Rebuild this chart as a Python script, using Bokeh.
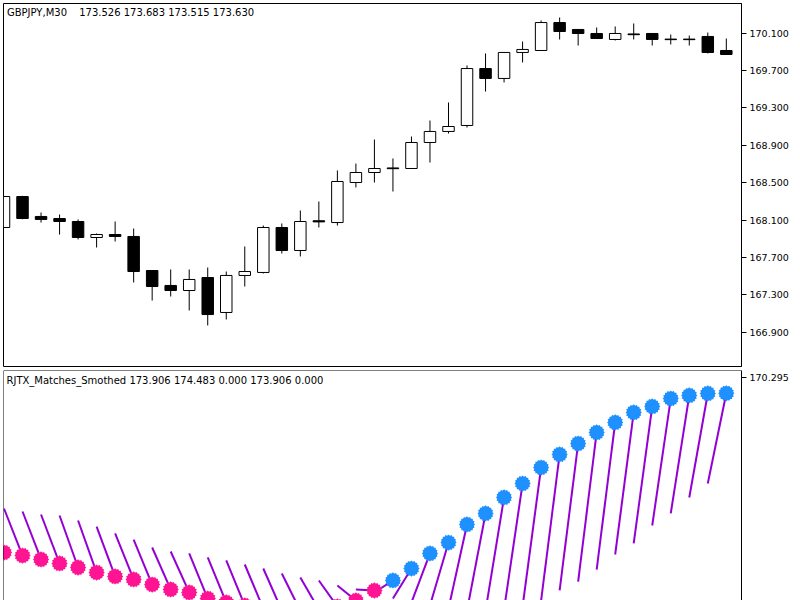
import numpy as np
from bokeh.plotting import figure
from bokeh.models import Range1d, FixedTicker, Label, Span, ColumnDataSource
from bokeh.layouts import column
from bokeh.embed import file_html
from bokeh.resources import INLINE

# ---------------- data ----------------
symbol_title = "GBPJPY,M30"
symbol_values = "173.526 173.683 173.515 173.630"
ind_title = "RJTX_Matches_Smothed 173.906 174.483 0.000 173.906 0.000"

opens = [168.022, 168.353, 168.140, 168.118, 168.086, 167.915, 167.947, 167.926, 167.562, 167.402,
         167.348, 167.487, 167.113, 167.509, 167.541, 168.022, 167.776, 168.094, 168.075, 168.503,
         168.610, 168.659, 168.653, 168.931, 169.049, 169.113, 169.722, 169.616, 169.894, 169.915,
         170.214, 170.140, 170.097, 170.033, 170.092, 170.097, 170.037, 170.037, 170.065, 169.915]
highs = [168.360, 168.360, 168.182, 168.161, 168.108, 167.958, 168.086, 168.011, 167.562, 167.573,
         167.573, 167.594, 167.551, 167.819, 168.043, 168.065, 168.204, 168.300, 168.632, 168.706,
         168.963, 168.760, 168.995, 169.166, 169.359, 169.755, 169.883, 169.894, 170.011, 170.236,
         170.268, 170.145, 170.161, 170.172, 170.204, 170.100, 170.086, 170.075, 170.107, 170.043]
lows = [168.020, 168.110, 168.075, 167.947, 167.894, 167.808, 167.872, 167.434, 167.241, 167.284,
        167.134, 166.974, 167.038, 167.391, 167.530, 167.744, 167.712, 168.022, 168.043, 168.450,
        168.503, 168.407, 168.650, 168.717, 169.027, 169.091, 169.476, 169.573, 169.787, 169.912,
        170.033, 169.968, 170.040, 170.022, 170.033, 169.968, 169.979, 169.968, 169.883, 169.870]
closes = [168.353, 168.118, 168.108, 168.086, 167.915, 167.947, 167.926, 167.551, 167.391, 167.348,
          167.466, 167.091, 167.509, 167.551, 168.022, 167.776, 168.086, 168.082, 168.514, 168.610,
          168.653, 168.651, 168.931, 169.049, 169.102, 169.722, 169.616, 169.894, 169.926, 170.214,
          170.118, 170.097, 170.043, 170.097, 170.084, 170.033, 170.031, 170.031, 169.894, 169.872]

price_ticks = [166.9, 167.3, 167.7, 168.1, 168.5, 168.9, 169.3, 169.7, 170.1]
price_tick_labels = ["166.900", "167.300", "167.700", "168.100", "168.500",
                     "168.900", "169.300", "169.700", "170.100"]

# indicator: smoothed value (star markers) and lagged value (start of each purple segment)
ind_marker = [168.423, 168.391, 168.349, 168.306, 168.263, 168.209, 168.167, 168.135, 168.081, 168.028,
              167.996, 167.931, 167.889, 167.857, 167.824, 167.803, 167.801, 167.814, 167.846, 167.910,
              168.017, 168.124, 168.252, 168.413, 168.530, 168.723, 168.841, 169.012, 169.161, 169.332,
              169.472, 169.589, 169.707, 169.814, 169.921, 169.985, 170.070, 170.103, 170.124, 170.126]
ind_lag = [168.894, 168.862, 168.830, 168.819, 168.766, 168.701, 168.627, 168.562, 168.477, 168.434,
           168.413, 168.370, 168.338, 168.295, 168.252, 168.199, 168.156, 168.124, 168.070, 168.028,
           167.996, 167.931, 167.889, 167.857, 167.824, 167.803, 167.801, 167.814, 167.846, 167.910,
           168.017, 168.113, 168.241, 168.402, 168.520, 168.712, 168.841, 169.012, 169.161]
ind_state = [-1, -1, -1, -1, -1, -1, -1, -1, -1, -1, -1, -1, -1, -1, -1, -1, -1, -1, -1, -1, -1,
             1, 1, 1, 1, 1, 1, 1, 1, 1, 1, 1, 1, 1, 1, 1, 1, 1, 1, 1]
ind_ticks = [170.295]
ind_tick_labels = ["170.295"]

FONT = "DejaVu Sans"
FS = "9.5px"
FS_HEAD = "10px"

n = len(opens)
idx = list(range(n))

# ---------------- price panel ----------------
p1 = figure(width=800, height=368, x_range=Range1d(-0.027, 39.82),
            y_range=Range1d(166.5353, 170.4176), output_backend="svg",
            toolbar_location=None, x_axis_location=None, y_axis_location="right",
            min_border_left=3, min_border_right=59, min_border_top=3, min_border_bottom=2,
            background_fill_color="white", border_fill_color="white")
p1.grid.visible = False
p1.outline_line_color = "black"
p1.outline_line_alpha = 1.0
ax1 = p1.yaxis[0]
ax1.ticker = FixedTicker(ticks=price_ticks)
ax1.major_label_overrides = {t: s for t, s in zip(price_ticks, price_tick_labels)}
ax1.major_tick_out = 5
ax1.major_tick_in = 0
ax1.minor_tick_out = 0
ax1.minor_tick_in = 0
ax1.major_label_standoff = 3
ax1.axis_line_color = "black"
ax1.major_tick_line_color = "black"
ax1.major_label_text_font = FONT
ax1.major_label_text_font_size = FS
ax1.major_label_text_color = "black"

body_top = [max(o, c) for o, c in zip(opens, closes)]
body_bot = [min(o, c) for o, c in zip(opens, closes)]
body_fill = ["white" if c > o else "black" for o, c in zip(opens, closes)]
src = ColumnDataSource(dict(x=idx, o=opens, h=highs, l=lows, c=closes,
                            top=body_top, bot=body_bot, fill=body_fill))
p1.segment(x0="x", y0="l", x1="x", y1="h", source=src, line_color="black", line_width=1)
p1.vbar(x="x", top="top", bottom="bot", width=0.62, source=src,
        fill_color="fill", line_color="black", line_width=1)

p1.add_layout(Label(x=0.16, y=170.316, text=symbol_title, text_font=FONT, text_font_size=FS_HEAD,
                    text_baseline="middle", text_align="left", text_color="black"))
p1.add_layout(Label(x=4.06, y=170.316, text=symbol_values, text_font=FONT, text_font_size=FS_HEAD,
                    text_baseline="middle", text_align="left", text_color="black"))

# ---------------- indicator panel ----------------
p2 = figure(width=800, height=232, x_range=p1.x_range,
            y_range=Range1d(167.910, 170.3699), output_backend="svg",
            toolbar_location=None, x_axis_location=None, y_axis_location="right",
            min_border_left=3, min_border_right=59, min_border_top=2, min_border_bottom=0,
            background_fill_color="white", border_fill_color="white")
p2.grid.visible = False
p2.outline_line_color = None
ax2 = p2.yaxis[0]
ax2.ticker = FixedTicker(ticks=ind_ticks)
ax2.major_label_overrides = {t: s for t, s in zip(ind_ticks, ind_tick_labels)}
ax2.major_tick_out = 5
ax2.major_tick_in = 0
ax2.minor_tick_out = 0
ax2.minor_tick_in = 0
ax2.major_label_standoff = 3
ax2.axis_line_color = "black"
ax2.major_tick_line_color = "black"
ax2.major_label_text_font = FONT
ax2.major_label_text_font_size = FS
ax2.major_label_text_color = "black"

p2.add_layout(Span(location=p2.x_range.start, dimension="height", line_color="black", line_width=1))
p2.add_layout(Span(location=p2.y_range.end, dimension="width", line_color="black", line_width=1))

seg = ColumnDataSource(dict(x0=idx[:-1], y0=ind_lag, x1=idx[1:], y1=ind_marker[1:]))
p2.segment(x0="x0", y0="y0", x1="x1", y1="y1", source=seg, line_color="#9400D3", line_width=2)

mcol = ["#FF1493" if s < 0 else "#1E90FF" for s in ind_state]
msrc = ColumnDataSource(dict(x=idx, y=ind_marker, col=mcol))
p2.scatter(x="x", y="y", source=msrc, marker="circle", size=13, fill_color="col", line_color=None)
for ang in (0.0, np.pi / 8, np.pi / 4, 3 * np.pi / 8):
    p2.scatter(x="x", y="y", source=msrc, marker="square", size=11.5, angle=ang,
               fill_color="col", line_color=None)

p2.add_layout(Label(x=0.135, y=170.268, text=ind_title, text_font=FONT, text_font_size=FS_HEAD,
                    text_baseline="middle", text_align="left", text_color="black"))

layout = column(p1, p2, spacing=0)
open("out.html", "w").write(file_html(layout, INLINE))
